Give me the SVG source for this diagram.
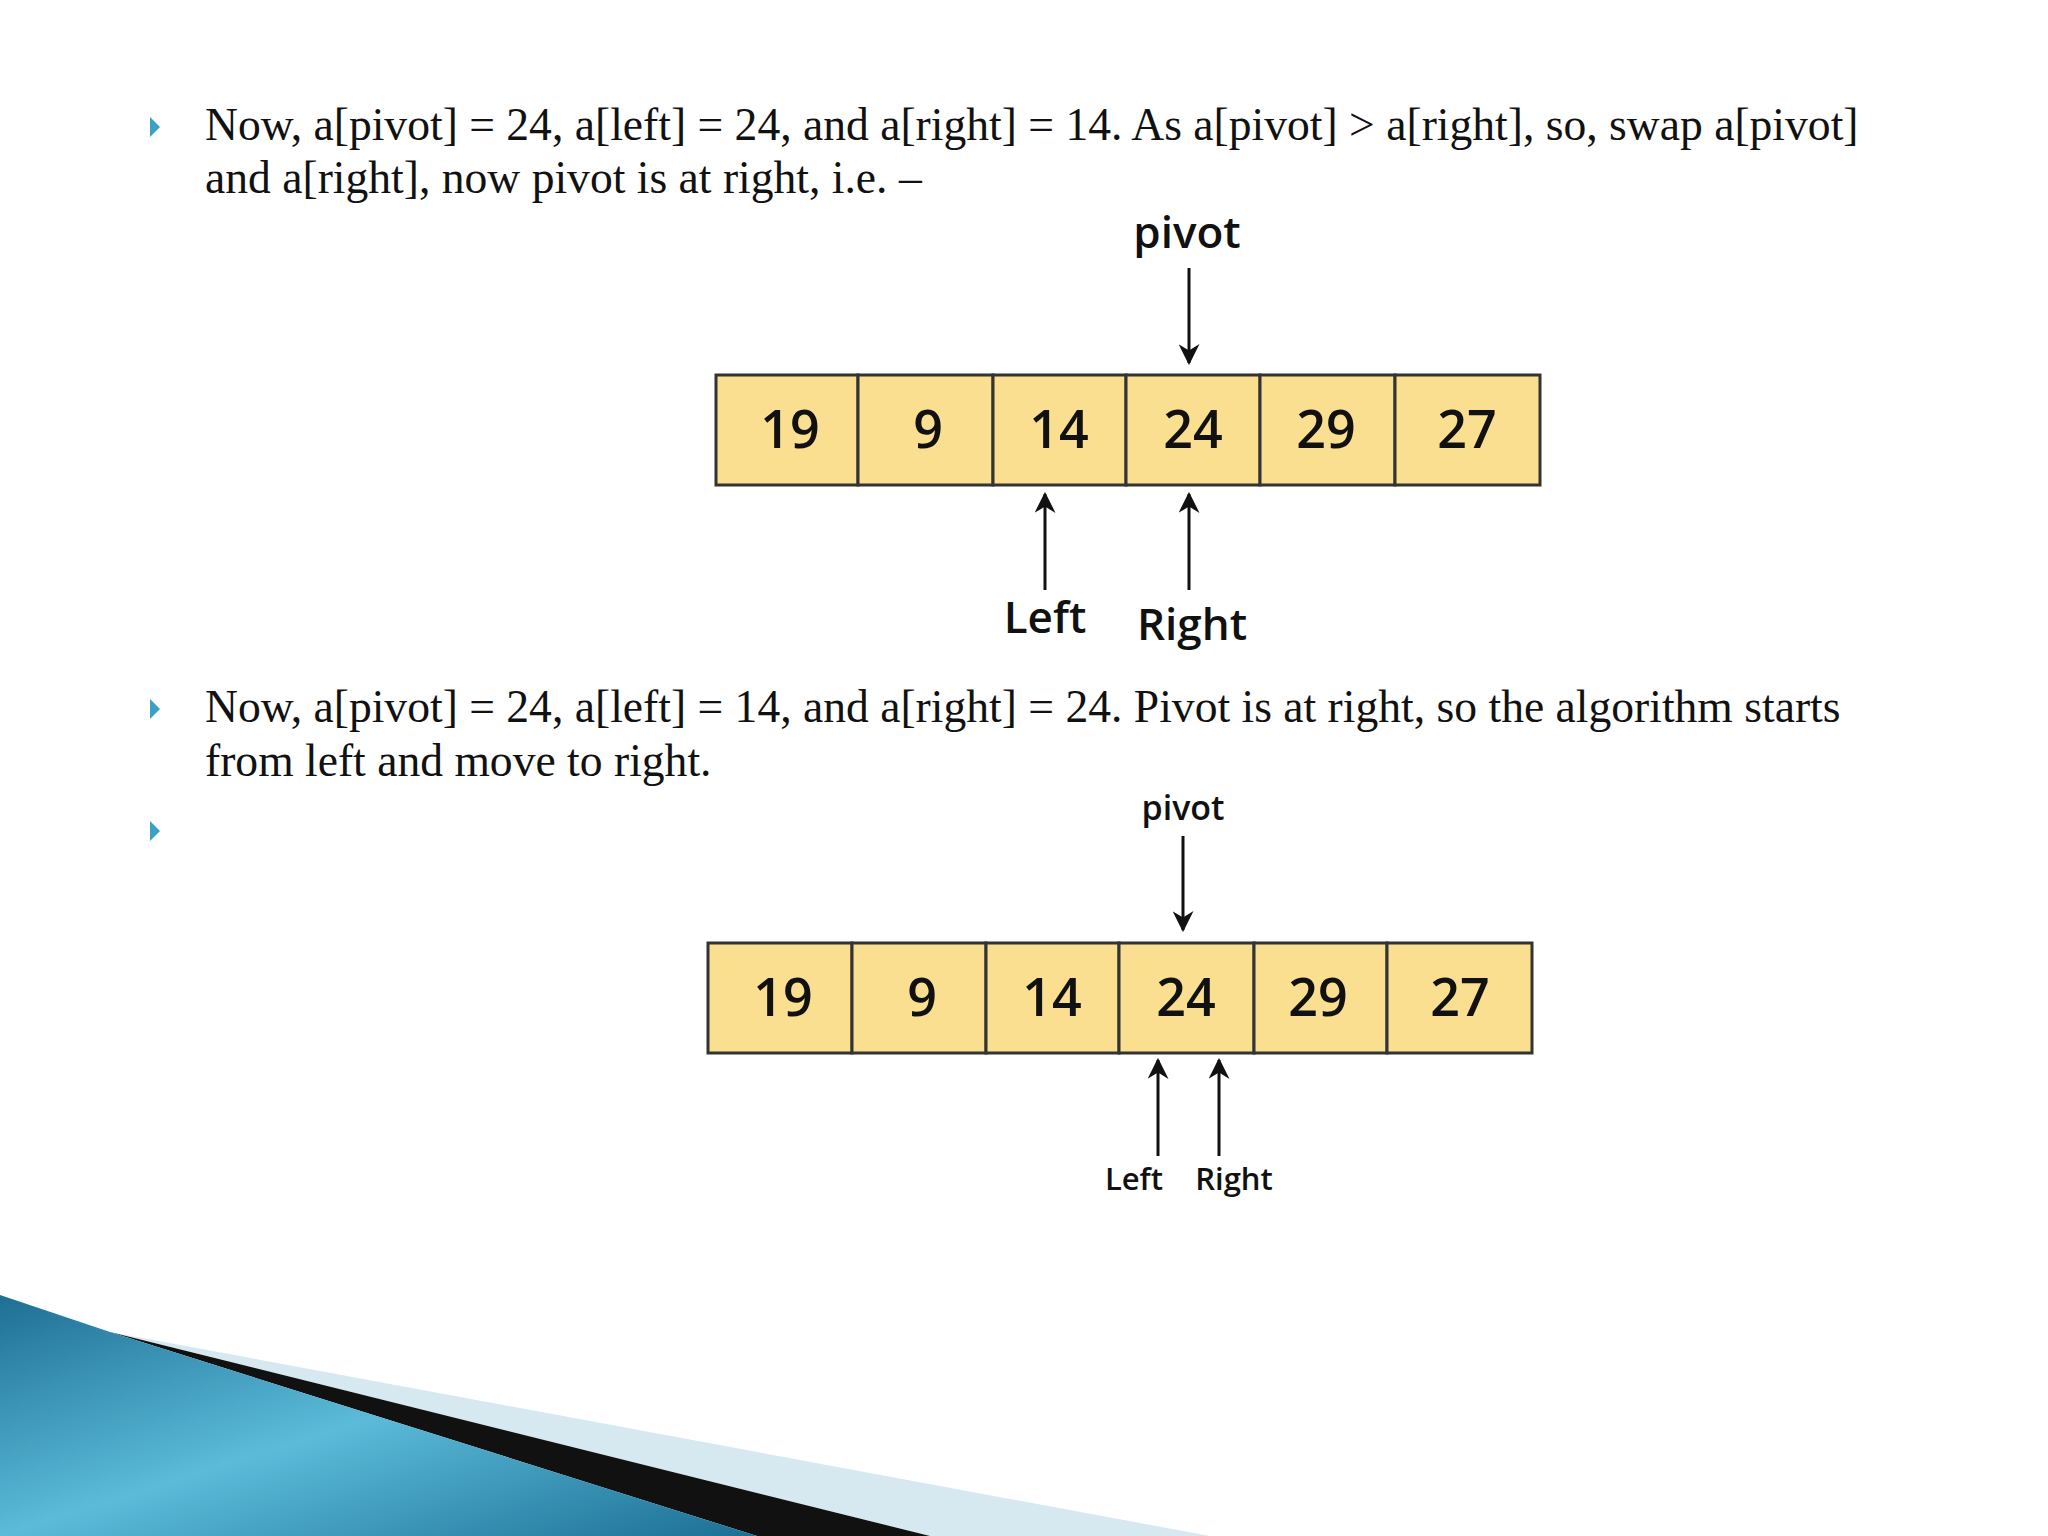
<svg xmlns="http://www.w3.org/2000/svg" width="2048" height="1536" viewBox="0 0 2048 1536">
<style>
.t{font-family:"Liberation Serif",serif;font-size:45.6px;fill:#111}
.c{fill:#f9df8f;stroke:#333;stroke-width:3}
.n{font-family:"Open Sans",sans-serif;font-weight:600;font-size:52px;fill:#111;text-anchor:middle}
.l{font-family:"Open Sans",sans-serif;font-weight:600;fill:#111;text-anchor:middle}
.a{stroke:#111;stroke-width:3;fill:none}
.b{fill:#3aa0c4}
</style>
<defs><marker id="m" viewBox="0 0 10 10" refX="9" refY="5" markerWidth="7" markerHeight="7" orient="auto"><path d="M0,0L10,5L0,10L3,5z" fill="#111"/></marker>
<linearGradient id="g" x1="0" y1="0" x2="1" y2="1"><stop offset="0" stop-color="#1e6f94"/><stop offset="0.5" stop-color="#5bbbd9"/><stop offset="1" stop-color="#1b6f95"/></linearGradient></defs>
<rect width="2048" height="1536" fill="#fff"/>
<g id="text">
<path class="b" d="M150,117L160,127L150,137z"/>
<text class="t" x="205" y="140">Now, a[pivot] = 24, a[left] = 24, and a[right] = 14. As a[pivot] &gt; a[right], so, swap a[pivot]</text>
<text class="t" x="205" y="193">and a[right], now pivot is at right, i.e. –</text>
<path class="b" d="M150,699L160,709L150,719z"/>
<text class="t" x="205" y="722">Now, a[pivot] = 24, a[left] = 14, and a[right] = 24. Pivot is at right, so the algorithm starts</text>
<text class="t" x="205" y="776">from left and move to right.</text>
<path class="b" d="M150,821L160,831L150,841z"/>
</g>
<g id="array1">
<rect class="c" x="716" y="375" width="142" height="110"/><rect class="c" x="858" y="375" width="135" height="110"/><rect class="c" x="993" y="375" width="133" height="110"/><rect class="c" x="1126" y="375" width="134" height="110"/><rect class="c" x="1260" y="375" width="135" height="110"/><rect class="c" x="1395" y="375" width="145" height="110"/>
<text class="n" x="790" y="448">19</text><text class="n" x="928" y="448">9</text><text class="n" x="1059" y="448">14</text><text class="n" x="1193" y="448">24</text><text class="n" x="1326" y="448">29</text><text class="n" x="1467" y="448">27</text>
<text class="l" x="1187" y="248" font-size="44">pivot</text>
<text class="l" x="1045" y="633" font-size="44">Left</text>
<text class="l" x="1192" y="640" font-size="44">Right</text>
</g>
<g id="array2">
<rect class="c" x="708" y="943" width="144" height="110"/><rect class="c" x="852" y="943" width="134" height="110"/><rect class="c" x="986" y="943" width="133" height="110"/><rect class="c" x="1119" y="943" width="135" height="110"/><rect class="c" x="1254" y="943" width="133" height="110"/><rect class="c" x="1387" y="943" width="145" height="110"/>
<text class="n" x="783" y="1016">19</text><text class="n" x="922" y="1016">9</text><text class="n" x="1052" y="1016">14</text><text class="n" x="1186" y="1016">24</text><text class="n" x="1318" y="1016">29</text><text class="n" x="1460" y="1016">27</text>
<text class="l" x="1183" y="820" font-size="34">pivot</text>
<text class="l" x="1134" y="1190" font-size="31">Left</text>
<text class="l" x="1234" y="1190" font-size="31">Right</text>
</g>
<g id="connectors">
<line class="a" x1="1189" y1="268" x2="1189" y2="363" marker-end="url(#m)"/>
<line class="a" x1="1045" y1="590" x2="1045" y2="494" marker-end="url(#m)"/>
<line class="a" x1="1189" y1="590" x2="1189" y2="494" marker-end="url(#m)"/>
<line class="a" x1="1183" y1="836" x2="1183" y2="930" marker-end="url(#m)"/>
<line class="a" x1="1158" y1="1156" x2="1158" y2="1060" marker-end="url(#m)"/>
<line class="a" x1="1219" y1="1156" x2="1219" y2="1060" marker-end="url(#m)"/>
</g>
<g id="swoosh">
<path d="M110,1332L1210,1536L930,1536z" fill="#d6e9f1"/>
<path d="M110,1332L930,1536L757,1536z" fill="#111"/>
<path d="M0,1295L110,1332L757,1536L0,1536z" fill="url(#g)"/>
</g>
</svg>
